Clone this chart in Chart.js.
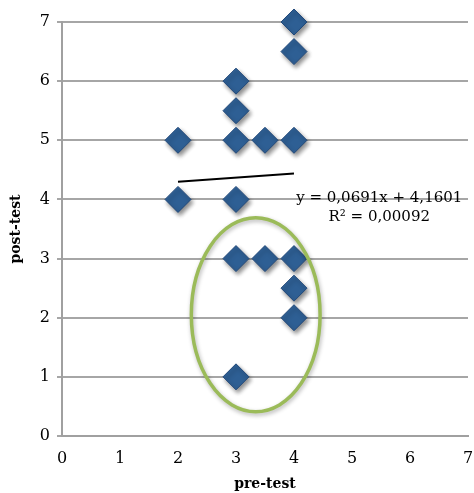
<!DOCTYPE html>
<html>
<head>
<meta charset="utf-8">
<script src="https://cdn.jsdelivr.net/npm/chart.js@4/dist/chart.umd.min.js"></script>
<style>
  html, body { margin: 0; padding: 0; background: #fff; }
  #wrap { width: 474px; height: 493px; }
</style>
</head>
<body>
<div id="wrap"><canvas id="chart" width="474" height="493"></canvas></div>
<script>
// pre-test / post-test scores
const preTest  = [2, 2, 3, 3, 3, 3, 3.5, 4, 4, 4, 3, 3.5, 4, 4, 4, 3];
const postTest = [5, 4, 6, 5.5, 5, 4, 5, 5, 7, 6.5, 3, 3, 3, 2.5, 2, 1];

// linear trend line as printed on the chart
const slope = 0.0691;
const intercept = 4.1601;
const trendFrom = 2;
const trendTo = 4;
const eqLines = ['y = 0,0691x + 4,1601', 'R² = 0,00092'];

// green ellipse around the low group (centre and radii in data units)
const ellipseCenter = [3.34, 2.05];
const ellipseRadii = [1.11, 1.64];

const axisTicks = [0, 1, 2, 3, 4, 5, 6, 7];

const serif = '"DejaVu Serif", serif';

const points = preTest.map((x, i) => ({ x: x, y: postTest[i] }));
const trend = [trendFrom, trendTo].map(x => ({ x: x, y: slope * x + intercept }));

const shadowPlugin = {
  id: 'shadow',
  beforeDatasetDraw(chart, args) {
    if (args.index !== 0) return;
    const ctx = chart.ctx;
    ctx.save();
    ctx.shadowColor = 'rgba(0,0,0,0.45)';
    ctx.shadowBlur = 4;
    ctx.shadowOffsetX = 2;
    ctx.shadowOffsetY = 3;
  },
  afterDatasetDraw(chart, args) {
    if (args.index !== 0) return;
    chart.ctx.restore();
  }
};

const annotationPlugin = {
  id: 'annot',
  afterDatasetsDraw(chart) {
    const ctx = chart.ctx;
    const xs = chart.scales.x, ys = chart.scales.y;
    // ellipse
    const cx = xs.getPixelForValue(ellipseCenter[0]);
    const cy = ys.getPixelForValue(ellipseCenter[1]);
    const rx = xs.getPixelForValue(ellipseCenter[0] + ellipseRadii[0]) - cx;
    const ry = cy - ys.getPixelForValue(ellipseCenter[1] + ellipseRadii[1]);
    ctx.save();
    ctx.shadowColor = 'rgba(0,0,0,0.3)';
    ctx.shadowBlur = 4;
    ctx.shadowOffsetX = 1;
    ctx.shadowOffsetY = 2;
    ctx.beginPath();
    ctx.ellipse(cx, cy, rx, ry, 0, 0, Math.PI * 2);
    ctx.strokeStyle = '#9bbb59';
    ctx.lineWidth = 3.5;
    ctx.stroke();
    ctx.restore();

    // equation text
    ctx.save();
    ctx.font = '15px ' + serif;
    ctx.fillStyle = '#000';
    ctx.textAlign = 'center';
    ctx.textBaseline = 'middle';
    const tx = xs.getPixelForValue(5.47);
    ctx.fillText(eqLines[0], tx, ys.getPixelForValue(4.02));
    ctx.fillText(eqLines[1], tx, ys.getPixelForValue(3.7));
    ctx.restore();
  }
};

new Chart(document.getElementById('chart'), {
  type: 'scatter',
  data: {
    datasets: [
      {
        data: points,
        pointStyle: 'rectRot',
        pointRadius: 13,
        pointHoverRadius: 13,
        backgroundColor: '#2e5f94',
        borderColor: '#22497a',
        borderWidth: 1,
        clip: false
      },
      {
        type: 'line',
        data: trend,
        borderColor: '#000',
        borderWidth: 2,
        pointRadius: 0,
        fill: false
      }
    ]
  },
  options: {
    responsive: false,
    animation: false,
    events: [],
    layout: { autoPadding: false, padding: { top: 22, right: 6, left: 8, bottom: 0 } },
    plugins: { legend: { display: false }, tooltip: { enabled: false } },
    scales: {
      x: {
        type: 'linear',
        min: 0, max: 7,
        afterBuildTicks: s => { s.ticks = axisTicks.map(v => ({ value: v })); },
        afterFit: s => { s.paddingRight = 0; },
        grid: { display: false, drawOnChartArea: false, drawTicks: true, tickLength: 5, color: '#a0a0a0' },
        border: { color: '#a0a0a0', width: 2 },
        ticks: { color: '#000', font: { family: serif, size: 16 }, padding: 8, maxRotation: 0 },
        title: { display: true, text: 'pre-test', color: '#000', font: { family: serif, size: 14, weight: 'bold' }, padding: { top: 0, bottom: 0 } }
      },
      y: {
        min: 0, max: 7,
        afterBuildTicks: s => { s.ticks = axisTicks.map(v => ({ value: v })); },
        grid: { color: '#a6a6a6', lineWidth: 2, tickLength: 5 },
        border: { color: '#a0a0a0', width: 2 },
        ticks: { color: '#000', font: { family: serif, size: 16 }, padding: 7 },
        title: { display: true, text: 'post-test', color: '#000', font: { family: serif, size: 14, weight: 'bold' }, padding: { top: 0, bottom: 8 } }
      }
    }
  },
  plugins: [shadowPlugin, annotationPlugin]
});
</script>
</body>
</html>
